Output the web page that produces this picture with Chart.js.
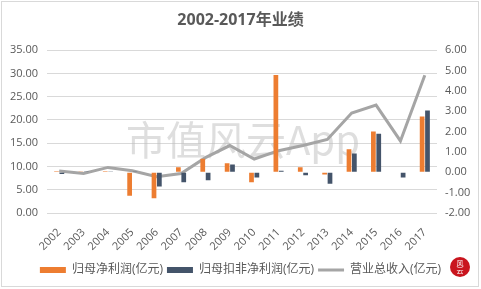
<!DOCTYPE html>
<html>
<head>
<meta charset="utf-8">
<script src="https://cdn.jsdelivr.net/npm/chart.js@4"></script>
<style>
    body { margin: 0; background: #fff; }
    #perfChart { display: block; }
</style>
</head>
<body>
<canvas id="perfChart" width="481" height="289"></canvas>
<script>
// values
let years = ['2002', '2003', '2004', '2005', '2006', '2007', '2008', '2009',
    '2010', '2011', '2012', '2013', '2014', '2015', '2016', '2017'];
let netProfit = [0.05, 0.02, 0.05, -1.15, -1.28, 0.25, 0.66, 0.44,
    -0.49, 4.78, 0.25, -0.11, 1.13, 2.0, 0.03, 2.74];
let netProfitDeducted = [-0.08, 0.01, 0.04, 0.02, -0.7, -0.49, -0.39, 0.38,
    -0.26, 0.08, -0.15, -0.56, 0.92, 1.9, -0.26, 3.04];
let revenue = [9.05, 8.5, 9.8, 9.1, 7.8, 8.5, 11.9, 14.5,
    11.6, 13.4, 14.5, 15.8, 21.5, 23.2, 15.5, 29.6];

const FONT = '"Open Sans", "Noto Sans CJK SC", sans-serif';
const TEXT = '#595959';

let decorations = {
    id: 'decorations',
    beforeDatasetsDraw(chart) {
        let ctx = chart.ctx;
        ctx.save();
        ctx.font = '40px "Noto Sans CJK SC", sans-serif';
        ctx.fillStyle = 'rgba(190, 190, 190, 0.5)';
        ctx.textAlign = 'center';
        ctx.textBaseline = 'middle';
        ctx.fillText('市值风云App', 243, 140);
        ctx.restore();
    },
    afterDraw(chart) {
        let ctx = chart.ctx;
        ctx.save();
        ctx.strokeStyle = '#d9d9d9';
        ctx.lineWidth = 1;
        ctx.strokeRect(1.5, 1.5, 477, 285);

        ctx.fillStyle = '#c9151e';
        ctx.beginPath();
        ctx.arc(460, 267, 10, 0, Math.PI * 2);
        ctx.fill();
        ctx.fillStyle = '#fff';
        ctx.font = '7px "Noto Sans CJK SC", sans-serif';
        ctx.textAlign = 'center';
        ctx.textBaseline = 'middle';
        ctx.fillText('风', 460, 263);
        ctx.fillText('云', 460, 270);
        ctx.restore();
    }
};

let ctx = document.getElementById('perfChart');
let perfChart = new Chart(ctx, {
    type: 'bar',
    data: {
        labels: years,
        datasets: [{
            label: '归母净利润(亿元)',
            data: netProfit,
            backgroundColor: '#ed7d31',
            yAxisID: 'y1',
            barPercentage: 0.88,
            categoryPercentage: 0.44
        }, {
            label: '归母扣非净利润(亿元)',
            data: netProfitDeducted,
            backgroundColor: '#44546a',
            yAxisID: 'y1',
            barPercentage: 0.88,
            categoryPercentage: 0.44
        }, {
            type: 'line',
            label: '营业总收入(亿元)',
            data: revenue,
            borderColor: '#a5a5a5',
            backgroundColor: '#a5a5a5',
            borderWidth: 3,
            pointRadius: 0,
            tension: 0,
            yAxisID: 'y'
        }]
    },
    options: {
        responsive: false,
        animation: false,
        layout: { padding: { bottom: 3 } },
        plugins: {
            tooltip: { enabled: false },
            title: {
                display: true,
                text: '2002-2017年业绩',
                color: TEXT,
                font: { family: FONT, size: 16, weight: 'bold' },
                padding: { top: 11, bottom: 20 }
            },
            legend: {
                position: 'bottom',
                labels: {
                    color: TEXT,
                    font: { family: FONT, size: 12 },
                    usePointStyle: true,
                    pointStyleWidth: 26,
                    boxHeight: 6,
                    padding: 4,
                    generateLabels(chart) {
                        let items = Chart.defaults.plugins.legend.labels.generateLabels(chart);
                        items.forEach(item => {
                            if (item.datasetIndex === 2) {
                                item.pointStyle = 'line';
                                item.lineWidth = 3;
                            } else {
                                item.pointStyle = 'rect';
                                item.lineWidth = 0;
                            }
                        });
                        return items;
                    }
                }
            }
        },
        scales: {
            x: {
                grid: { display: false },
                border: { display: false },
                ticks: {
                    color: TEXT,
                    font: { family: FONT, size: 11 },
                    minRotation: 45,
                    maxRotation: 45,
                    padding: 5
                },
                afterFit(scale) { scale.height = 47; }
            },
            y: {
                position: 'left',
                min: 0,
                max: 35,
                grid: { color: '#d9d9d9', drawTicks: false },
                border: { display: false },
                ticks: {
                    stepSize: 5,
                    padding: 9,
                    color: TEXT,
                    font: { family: FONT, size: 11 },
                    callback: v => v.toFixed(2)
                },
                afterFit(scale) { scale.width = 47; }
            },
            y1: {
                position: 'right',
                min: -2,
                max: 6,
                grid: { drawOnChartArea: false, drawTicks: false },
                border: { display: false },
                ticks: {
                    stepSize: 1,
                    padding: 8,
                    color: TEXT,
                    font: { family: FONT, size: 11 },
                    callback: v => v.toFixed(2)
                },
                afterFit(scale) { scale.width = 44; }
            }
        }
    },
    plugins: [decorations]
});
</script>
</body>
</html>
